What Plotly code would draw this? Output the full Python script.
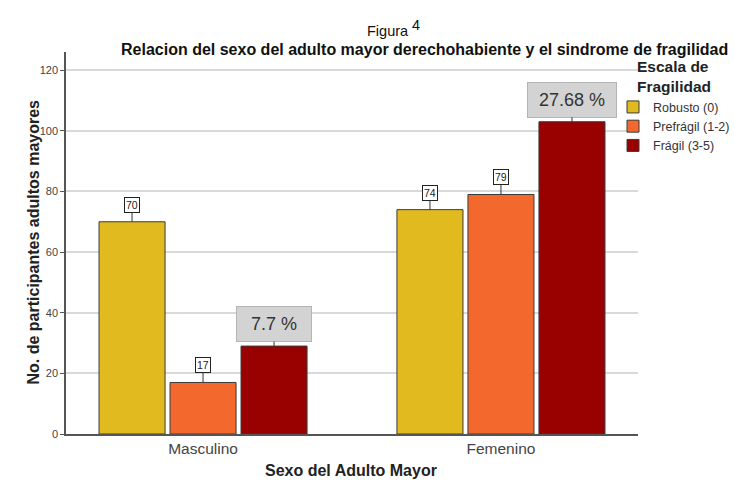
import plotly.graph_objects as go

# Data
sexes = ["Masculino", "Femenino"]
levels = ["Robusto (0)", "Prefrágil (1-2)", "Frágil (3-5)"]
robusto = [70, 74]
prefragil = [17, 79]
fragil = [29, 103]
fragil_pct = ["7.7 %", "27.68 %"]

colors = ["#E1BA1F", "#F2682D", "#990000"]
series = [robusto, prefragil, fragil]

BARGAP = 0.285
BARGROUPGAP = 0.07
FONT = "Liberation Sans, Arial, sans-serif"

W, H = 734, 488
L, R, T, B = 66, 96, 52, 54
PW, PH = W - L - R, H - T - B


def px(x):
    """pixel x -> paper coordinate"""
    return (x - L) / PW


def py(y):
    """pixel y (from top) -> paper coordinate"""
    return (H - B - y) / PH


fig = go.Figure()
for name, vals, col in zip(levels, series, colors):
    fig.add_trace(go.Bar(
        x=sexes, y=vals, name=name,
        marker=dict(color=col, line=dict(color="#3a3a3a", width=1)),
    ))

# offsets of each bar inside its group (category units)
slot = (1 - BARGAP) / len(series)
annotations = []
for i, vals in enumerate(series):
    off = (i - (len(series) - 1) / 2) * slot
    for j, v in enumerate(vals):
        if i < 2:
            annotations.append(dict(
                x=j + off, y=v, xref="x", yref="y",
                text=str(v), showarrow=True, arrowhead=0, arrowwidth=1,
                arrowcolor="#333333", ax=0, ay=-17,
                font=dict(family=FONT, size=10.5, color="#222222"),
                bgcolor="white", bordercolor="#222222", borderwidth=1, borderpad=1,
            ))
        else:
            annotations.append(dict(
                x=j + off, y=v, xref="x", yref="y",
                text=fragil_pct[j], showarrow=True, arrowhead=0, arrowwidth=1,
                arrowcolor="#333333", ax=0, ay=-22,
                width=70 if j == 0 else 84, height=30,
                font=dict(family=FONT, size=18, color="#333333"),
                bgcolor="#D3D3D3", bordercolor="#B5B5B5", borderwidth=1, borderpad=2,
            ))

# titles
annotations += [
    dict(text="Figura", x=px(388), y=py(21), xref="paper", yref="paper",
         showarrow=False, font=dict(family=FONT, size=14.5, color="#111111")),
    dict(text="4", x=px(416), y=py(15), xref="paper", yref="paper",
         showarrow=False, font=dict(family=FONT, size=14.5, color="#111111")),
    dict(text="<b>Relacion del sexo del adulto mayor derechohabiente y el sindrome de fragilidad</b>",
         x=px(424), y=py(39), xref="paper", yref="paper", showarrow=False,
         font=dict(family=FONT, size=16, color="#111111")),
    dict(text="<b>No. de participantes adultos mayores</b>", textangle=-90,
         x=px(22), y=py(242), xref="paper", yref="paper", showarrow=False,
         font=dict(family=FONT, size=16, color="#222222")),
    dict(text="<b>Sexo del Adulto Mayor</b>",
         x=px(351), y=py(481), xref="paper", yref="paper", showarrow=False,
         font=dict(family=FONT, size=16, color="#222222")),
]

fig.update_layout(
    width=W, height=H,
    margin=dict(l=L, r=R, t=T, b=B, autoexpand=False),
    paper_bgcolor="white", plot_bgcolor="white",
    barmode="group", bargap=BARGAP, bargroupgap=BARGROUPGAP,
    font=dict(family=FONT, color="#333333"),
    showlegend=True,
    legend=dict(
        x=px(613), xanchor="left", y=1.0, yanchor="top",
        xref="paper", yref="paper",
        title=dict(text="<b>Escala de<br>Fragilidad</b>", side="top center",
                   font=dict(family=FONT, size=15.5, color="#222222")),
        font=dict(family=FONT, size=12.5, color="#333333"),
        bgcolor="rgba(0,0,0,0)", tracegroupgap=0, itemwidth=30,
    ),
    annotations=annotations,
)

fig.update_xaxes(
    type="category", range=[-0.46, 1.46],
    showline=True, linecolor="#555555", linewidth=1.5,
    ticks="", tickfont=dict(family=FONT, size=15.5, color="#444444"),
    showgrid=False,
)
fig.update_yaxes(
    range=[0, 126], tickvals=[0, 20, 40, 60, 80, 100, 120],
    showline=True, linecolor="#555555", linewidth=1.5,
    ticks="outside", ticklen=4, tickcolor="#555555",
    tickfont=dict(family=FONT, size=11, color="#444444"),
    showgrid=True, gridcolor="#D9D9D9", gridwidth=1.5, zeroline=False,
)

fig.write_html("out.html")
